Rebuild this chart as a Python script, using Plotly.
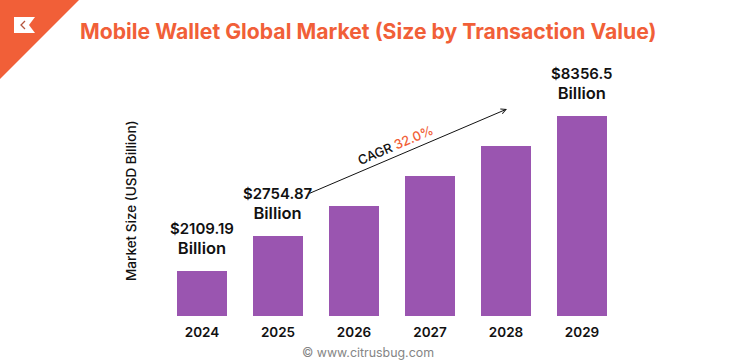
import plotly.graph_objects as go

W, H = 736, 364
ORANGE = "#F15F38"
PURPLE = "#9A55B0"
INK = "#111111"
FONT = "Inter"

# Data
years = ["2024", "2025", "2026", "2027", "2028", "2029"]
drawn_bar_height = [45, 80, 110, 140, 170, 200]
value_labels = ["$2109.19", "$2754.87", "", "", "", "$8356.5"]
unit_label = "Billion"
title_text = "Mobile Wallet Global Market (Size by Transaction Value)"
y_title = "Market Size (USD Billion)"
cagr_label = "32.0%"
source_text = "© www.citrusbug.com"


def fx(px):
    return px / W


def fy(py):
    return 1 - py / H


fig = go.Figure(
    go.Bar(
        x=years,
        y=drawn_bar_height,
        marker=dict(color=PURPLE, line=dict(width=0)),
        hoverinfo="skip",
    )
)

annotations = []

# Value labels, anchored on the bars (category axis: x is the category index)
for i, (h, label) in enumerate(zip(drawn_bar_height, value_labels)):
    if label:
        annotations.append(dict(
            x=i, y=h, xref="x", yref="y",
            text=f"{label}<br><span style='font-size:16.5px'>{unit_label}</span>",
            showarrow=False, xanchor="center", yanchor="bottom", yshift=11, align="center",
            font=dict(family=FONT, size=15, color=INK, weight=600),
        ))

# Title
annotations.append(dict(
    x=fx(368), y=fy(31), xref="paper", yref="paper", text=title_text, showarrow=False,
    xanchor="center", yanchor="middle",
    font=dict(family=FONT, size=21.2, color=ORANGE, weight=700),
))

# Y axis title
annotations.append(dict(
    x=fx(131), y=fy(201), xref="paper", yref="paper", text=y_title, showarrow=False,
    textangle=-90, xanchor="center", yanchor="middle",
    font=dict(family=FONT, size=13.5, color=INK, weight=500),
))

# CAGR arrow and label
annotations.append(dict(
    x=fx(507), y=fy(109), ax=-199, ay=85,
    xref="paper", yref="paper", axref="pixel", ayref="pixel", text="",
    showarrow=True, arrowhead=5, arrowsize=1, arrowwidth=1, arrowcolor=INK,
))
annotations.append(dict(
    x=fx(395), y=fy(145), xref="paper", yref="paper",
    text=f"CAGR <span style='color:{ORANGE}'>{cagr_label}</span>",
    showarrow=False, textangle=-23, xanchor="center", yanchor="middle",
    font=dict(family=FONT, size=13, color=INK, weight=500),
))

# Source line
annotations.append(dict(
    x=fx(368), y=fy(352), xref="paper", yref="paper", text=source_text, showarrow=False,
    xanchor="center", yanchor="middle",
    font=dict(family=FONT, size=12.4, color="#858585", weight=400),
))

shapes = [
    # Corner ribbon
    dict(type="path", xref="paper", yref="paper", line=dict(width=0), fillcolor=ORANGE,
         path=f"M 0 {fy(0)} L {fx(79)} {fy(0)} L 0 {fy(79)} Z"),
    # Logo tile
    dict(type="path", xref="paper", yref="paper", line=dict(width=0), fillcolor="#FFFFFF",
         path=(f"M {fx(14)} {fy(17)} L {fx(35)} {fy(17)} L {fx(29)} {fy(25)} "
               f"L {fx(35)} {fy(33)} L {fx(14)} {fy(33)} Z")),
    # Logo chevron
    dict(type="path", xref="paper", yref="paper", line=dict(width=1.3, color="#B4553D"),
         path=f"M {fx(25)} {fy(21)} L {fx(21)} {fy(25)} L {fx(25)} {fy(29)}"),
]

fig.update_layout(
    width=W, height=H, autosize=False,
    margin=dict(l=0, r=0, t=0, b=0, pad=0, autoexpand=False),
    paper_bgcolor="white", plot_bgcolor="white",
    showlegend=False, bargap=0.342,
    annotations=annotations, shapes=shapes,
    xaxis=dict(
        domain=[fx(164), fx(620)], type="category", range=[-0.5, 5.5], showgrid=False,
        zeroline=False, showline=False, ticks="", ticklabelstandoff=6,
        tickfont=dict(family=FONT, size=13.5, color=INK, weight=600),
    ),
    yaxis=dict(
        domain=[fy(316), fy(16)], range=[0, 300], visible=False,
    ),
)

fig.write_html("out.html", config=dict(displayModeBar=False),
               post_script="document.body.style.margin='0';document.documentElement.style.overflow='hidden';")
